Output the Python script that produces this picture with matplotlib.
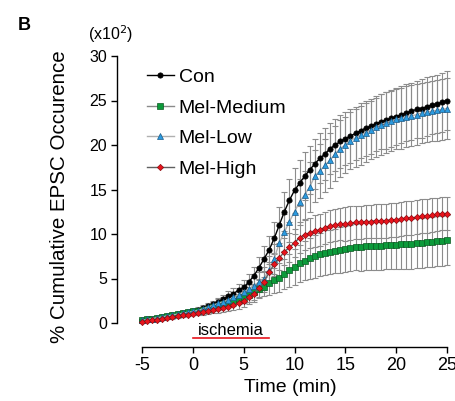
import numpy as np
import matplotlib
matplotlib.use("Agg")
import matplotlib.pyplot as plt

plt.rcParams['font.family'] = ['Liberation Sans', 'DejaVu Sans']
plt.rcParams['axes.unicode_minus'] = False

time = [-5 + 0.5 * i for i in range(61)]

con = [0.3, 0.4, 0.5, 0.6, 0.7, 0.8, 0.9, 1.0, 1.1, 1.2, 1.3,
       1.5, 1.7, 1.9, 2.1, 2.4, 2.7, 3.0, 3.3, 3.7, 4.0,
       4.6, 5.3, 6.2, 7.2, 8.2, 9.5, 11.0, 12.5, 13.8, 14.9,
       15.7, 16.5, 17.2, 17.9, 18.5, 19.0, 19.6, 20.0, 20.4, 20.7,
       21.0, 21.3, 21.6, 21.9, 22.1, 22.4, 22.6, 22.8, 23.0, 23.2,
       23.4, 23.6, 23.8, 24.0, 24.1, 24.3, 24.5, 24.6, 24.8, 25.0]
con_err = [0.1, 0.1, 0.1, 0.1, 0.15, 0.15, 0.15, 0.2, 0.2, 0.2, 0.25,
           0.3, 0.3, 0.35, 0.4, 0.45, 0.5, 0.55, 0.6, 0.7, 0.8,
           0.9, 1.0, 1.2, 1.4, 1.6, 1.8, 2.0, 2.2, 2.4, 2.5,
           2.6, 2.7, 2.7, 2.8, 2.8, 2.9, 2.9, 2.9, 3.0, 3.0,
           3.0, 3.0, 3.1, 3.1, 3.1, 3.1, 3.1, 3.2, 3.2, 3.2,
           3.2, 3.2, 3.2, 3.2, 3.3, 3.3, 3.3, 3.3, 3.3, 3.3]

mel_medium = [0.3, 0.4, 0.5, 0.6, 0.7, 0.8, 0.9, 1.0, 1.1, 1.2, 1.3,
              1.4, 1.5, 1.6, 1.75, 1.9, 2.1, 2.3, 2.5, 2.7, 2.9,
              3.2, 3.5, 3.8, 4.1, 4.5, 4.8, 5.1, 5.5, 5.9, 6.3,
              6.7, 7.0, 7.3, 7.5, 7.7, 7.9, 8.0, 8.1, 8.2, 8.3,
              8.4, 8.5, 8.5, 8.6, 8.6, 8.7, 8.7, 8.8, 8.8, 8.8,
              8.9, 8.9, 8.9, 9.0, 9.0, 9.1, 9.1, 9.2, 9.2, 9.3]
mel_medium_err = [0.1, 0.1, 0.1, 0.1, 0.1, 0.15, 0.15, 0.15, 0.2, 0.2, 0.2,
                  0.25, 0.3, 0.3, 0.35, 0.4, 0.45, 0.5, 0.55, 0.6, 0.7,
                  0.8, 0.9, 1.0, 1.1, 1.3, 1.4, 1.6, 1.7, 1.9, 2.0,
                  2.1, 2.2, 2.3, 2.4, 2.4, 2.5, 2.5, 2.5, 2.6, 2.6,
                  2.6, 2.6, 2.7, 2.7, 2.7, 2.7, 2.7, 2.7, 2.7, 2.7,
                  2.8, 2.8, 2.8, 2.8, 2.8, 2.8, 2.8, 2.8, 2.8, 2.8]

mel_low = [0.3, 0.4, 0.5, 0.6, 0.7, 0.8, 0.9, 1.0, 1.1, 1.2, 1.3,
           1.4, 1.6, 1.8, 2.0, 2.2, 2.4, 2.6, 2.9, 3.2, 3.5,
           3.8, 4.2, 4.6, 5.0, 6.0, 7.2, 9.0, 10.2, 11.4, 12.5,
           13.6, 14.4, 15.3, 16.5, 17.1, 17.7, 18.3, 19.0, 19.6, 20.0,
           20.5, 20.8, 21.1, 21.4, 21.7, 22.0, 22.3, 22.5, 22.7, 22.9,
           23.0, 23.2, 23.3, 23.4, 23.6, 23.7, 23.8, 23.9, 24.0, 24.1]
mel_low_err = [0.1, 0.1, 0.1, 0.1, 0.15, 0.15, 0.15, 0.2, 0.2, 0.2, 0.25,
               0.3, 0.3, 0.35, 0.4, 0.45, 0.5, 0.55, 0.6, 0.7, 0.8,
               0.9, 1.0, 1.1, 1.3, 1.5, 1.7, 1.9, 2.1, 2.3, 2.5,
               2.6, 2.7, 2.8, 2.9, 3.0, 3.0, 3.1, 3.1, 3.2, 3.2,
               3.2, 3.3, 3.3, 3.3, 3.3, 3.3, 3.4, 3.4, 3.4, 3.4,
               3.4, 3.4, 3.4, 3.4, 3.4, 3.4, 3.4, 3.4, 3.4, 3.4]

mel_high = [0.1, 0.2, 0.3, 0.35, 0.45, 0.55, 0.65, 0.75, 0.85, 0.95, 1.05,
            1.15, 1.25, 1.35, 1.45, 1.55, 1.7, 1.85, 2.0, 2.2, 2.5,
            2.9, 3.3, 3.9, 4.6, 5.7, 6.6, 7.3, 8.0, 8.5, 9.0,
            9.6, 9.9, 10.1, 10.3, 10.5, 10.7, 10.9, 11.0, 11.1, 11.1,
            11.2, 11.3, 11.3, 11.4, 11.4, 11.5, 11.5, 11.5, 11.6, 11.6,
            11.7, 11.8, 11.8, 11.9, 12.0, 12.0, 12.1, 12.2, 12.3, 12.3]
mel_high_err = [0.1, 0.1, 0.1, 0.1, 0.1, 0.15, 0.15, 0.15, 0.2, 0.2, 0.2,
                0.25, 0.3, 0.3, 0.35, 0.4, 0.45, 0.5, 0.55, 0.6, 0.7,
                0.8, 0.9, 1.0, 1.1, 1.2, 1.3, 1.4, 1.5, 1.6, 1.6,
                1.7, 1.7, 1.7, 1.8, 1.8, 1.8, 1.8, 1.8, 1.8, 1.9,
                1.9, 1.9, 1.9, 1.9, 1.9, 1.9, 1.9, 1.9, 1.9, 1.9,
                1.9, 1.9, 1.9, 1.9, 1.9, 1.9, 1.9, 1.9, 1.9, 1.9]

x_ticks = [-5, 0, 5, 10, 15, 20, 25]
y_ticks = [0, 5, 10, 15, 20, 25, 30]
ischemia = (0, 7.5)

fig = plt.figure(figsize=(4.56, 4.01), dpi=100)
ax = fig.add_axes([142 / 456, 1 - 323 / 401, 305 / 456, 267 / 401])

series = [
    ("Con", con, con_err, 'o', 'black', 'black', 'black', 3.8),
    ("Mel-Medium", mel_medium, mel_medium_err, 's', '#0c9a3a', '#0b5a22', '#8a8a8a', 3.8),
    ("Mel-Low", mel_low, mel_low_err, '^', '#2b9be0', '#1a5a88', '#b0b0b0', 4.0),
    ("Mel-High", mel_high, mel_high_err, 'D', '#e8141c', '#8a0a10', '#606060', 3.2),
]

# error bars first (grey)
for name, y, e, m, fc, ec, lc, ms in series:
    ax.errorbar(time, y, yerr=e, fmt='none', ecolor='#8c8c8c', elinewidth=0.8,
                capsize=2.2, capthick=0.8, zorder=1, clip_on=False)

handles = []
for name, y, e, m, fc, ec, lc, ms in series:
    h, = ax.plot(time, y, color=lc, lw=1.0, marker=m, markersize=ms,
                 markerfacecolor=fc, markeredgecolor=ec, markeredgewidth=0.5,
                 zorder=3, clip_on=False, label=name)
    handles.append(h)

ax.set_xlim(-5, 25)
ax.set_ylim(0, 30)
ax.set_xticks(x_ticks)
ax.set_yticks(y_ticks)
ax.tick_params(axis='x', labelsize=13, length=4, width=1, direction='out', pad=3)
ax.tick_params(axis='y', labelsize=11.5, length=4, width=1, direction='out', pad=3)

for s in ['top', 'right']:
    ax.spines[s].set_visible(False)
ax.spines['left'].set_position(('outward', 18))
ax.spines['bottom'].set_position(('outward', 17.3))
ax.spines['left'].set_linewidth(1)
ax.spines['bottom'].set_linewidth(1)

fig.text(290 / 456, 1 - 387 / 401, "Time (min)", ha='center', va='center', fontsize=14)
fig.text(60 / 456, 1 - 197 / 401, "% Cumulative EPSC Occurence", rotation=90,
         ha='center', va='center', fontsize=14.8)

# ischemia bar
ax.plot(ischemia, [-1.7, -1.7], color='#e8141c', lw=1.2, clip_on=False, zorder=2)
ax.text(sum(ischemia) / 2, -1.38, "ischemia", ha='center', va='baseline', fontsize=12)

fig.text(111 / 456, 1 - 34 / 401, r"(x10$^2$)", ha='center', va='center', fontsize=11.5)
fig.text(24 / 456, 1 - 25 / 401, "B", ha='center', va='center', fontsize=13, fontweight='bold')

leg = ax.legend(handles=handles, loc='upper left', bbox_to_anchor=(-0.01, 0.982),
                frameon=False, fontsize=14, handlelength=1.4, handletextpad=0.25,
                labelspacing=0.66, borderaxespad=0.0)

fig.savefig("out.png", dpi=100)
